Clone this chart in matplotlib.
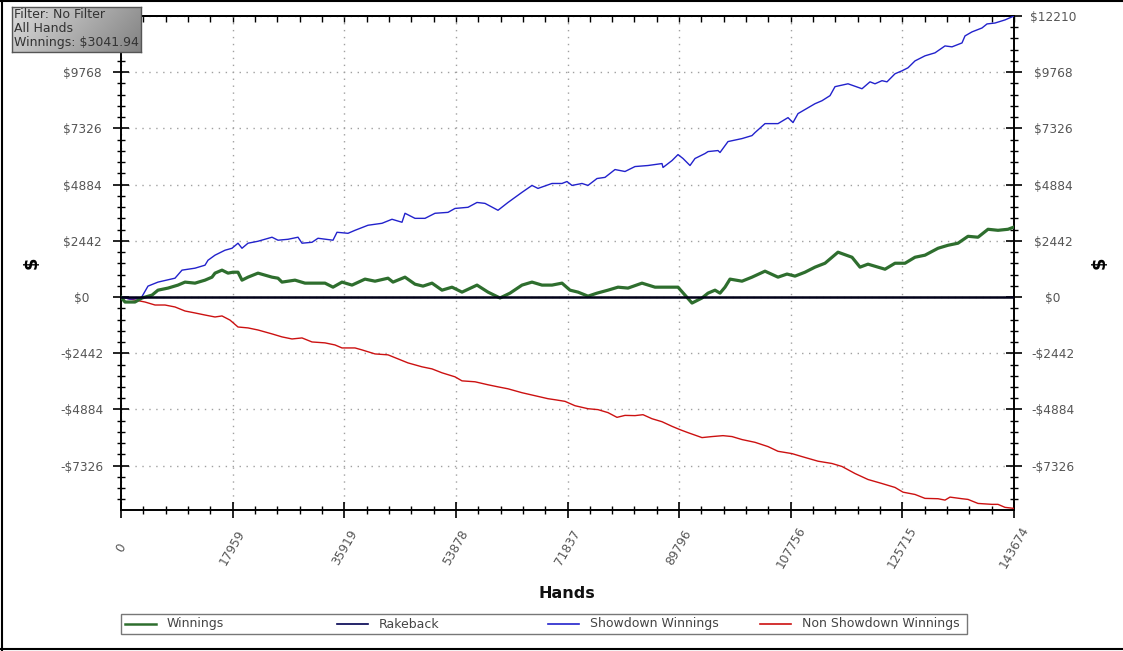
import matplotlib
matplotlib.use("Agg")
import matplotlib.pyplot as plt
import numpy as np
from matplotlib.ticker import AutoMinorLocator, FixedLocator
from matplotlib.lines import Line2D
from matplotlib.patches import Rectangle

plt.rcParams['font.family'] = ['DejaVu Sans']

# ---------------- data ----------------
series_names = ["Winnings", "Rakeback", "Showdown Winnings", "Non Showdown Winnings"]
series_colors = ["#2e6e2e", "#000050", "#2222cc", "#cc1111"]

showdown_hands = [0, 1448, 2800, 3330, 4344, 5953, 8688, 9814, 11906, 13515, 13998, 15124, 16733,
                  17859, 18824, 19468, 20433, 22042, 24295, 25260, 26869, 28478, 29121, 30730,
                  31695, 34109, 34752, 36522, 37648, 39740, 41992, 43601, 45210, 45693, 47302,
                  48911, 50519, 52611, 53737, 55829, 57277, 58564, 60655, 62264, 64516, 66125,
                  67091, 69343, 70952, 71757, 72561, 74170, 75136, 76584, 77871, 79480, 81089,
                  82698, 84789, 87042, 87203, 88651, 89616, 90421, 91547, 92351, 93960, 94443,
                  96052, 96374, 97660, 99912, 101521, 102004, 103613, 105705, 107314, 108118,
                  108923, 111658, 112784, 114071, 114876, 116967, 119220, 120507, 121311, 122437,
                  123242, 124529, 125655, 126620, 127747, 129356, 130965, 132573, 133699, 135308,
                  135791, 136917, 138526, 139331, 140617, 142226, 143674]
showdown_vals = [0, -90, -60, 0, 476, 650, 820, 1170, 1255, 1385, 1600, 1820, 2035,
                 2120, 2340, 2120, 2340, 2425, 2600, 2470, 2510, 2600, 2340, 2380,
                 2555, 2470, 2815, 2770, 2900, 3120, 3205, 3380, 3250, 3640, 3420,
                 3420, 3640, 3680, 3850, 3900, 4110, 4070, 3770, 4110, 4550, 4850,
                 4720, 4935, 4935, 5020, 4850, 4935, 4850, 5150, 5200, 5540, 5455,
                 5670, 5715, 5800, 5630, 5930, 6190, 6020, 5715, 6020, 6235, 6320,
                 6365, 6280, 6755, 6885, 7015, 7145, 7535, 7535, 7795, 7580,
                 7970, 8400, 8530, 8750, 9140, 9265, 9050, 9350, 9265, 9400,
                 9350, 9700, 9830, 9960, 10260, 10480, 10610, 10910, 10870, 11040,
                 11345, 11520, 11690, 11865, 11905, 12040, 12210]

winnings_hands = [0, 644, 2252, 3379, 4988, 5953, 7562, 9171, 10297, 11906, 13515, 14641, 15124,
                  16250, 17215, 18020, 18824, 19468, 20433, 22042, 24295, 25260, 25903, 27995,
                  29604, 31213, 32822, 34109, 35557, 37166, 39257, 40866, 42958, 43762, 45693,
                  47302, 48589, 50037, 51646, 53255, 54863, 57277, 59047, 60977, 62586, 64516,
                  66125, 67735, 69343, 70952, 72240, 73527, 75136, 76584, 78353, 79962, 81571,
                  83823, 85915, 88007, 89616, 90742, 91869, 93478, 94443, 95569, 96374, 97178,
                  97983, 99912, 101521, 103613, 105705, 107153, 108440, 110049, 111658, 113267,
                  115358, 117611, 118898, 120185, 121794, 122920, 124529, 126138, 127747, 129356,
                  131448, 133056, 134665, 136274, 137883, 139492, 141100, 142709, 143674]
winnings_vals = [0, -215, -215, -40, 85, 300, 390, 520, 650, 605, 735, 865, 1040,
                 1170, 1040, 1080, 1080, 735, 865, 1040, 865, 820, 650, 735,
                 605, 605, 605, 430, 650, 520, 780, 690, 820, 650, 865,
                 560, 476, 605, 300, 430, 215, 520, 215, -40, 170, 520,
                 650, 520, 520, 605, 300, 215, 40, 170, 300, 430, 390,
                 605, 430, 430, 430, 85, -260, -40, 170, 300, 170, 430,
                 780, 690, 865, 1125, 865, 1000, 910, 1080, 1300, 1470,
                 1950, 1730, 1300, 1430, 1300, 1210, 1470, 1470, 1730, 1820,
                 2120, 2250, 2340, 2640, 2600, 2945, 2900, 2945, 3042]

nonsd_hands = [0, 2252, 3861, 5470, 7079, 8688, 10297, 11906, 13515, 15124, 16250, 17537,
               18824, 20433, 22042, 24295, 25903, 27512, 29121, 30730, 32822, 34430, 35557,
               37648, 38774, 40866, 42958, 44566, 46175, 48428, 50037, 51646, 53737, 54863,
               56955, 59047, 60655, 62264, 64516, 66608, 68700, 69826, 71435, 73044, 75136,
               76744, 78353, 79801, 81089, 82698, 83985, 85433, 87042, 88651, 89938, 91225,
               93478, 95086, 96856, 98304, 99912, 102004, 104096, 105705, 107957, 109566,
               112140, 114393, 116002, 118093, 120185, 122437, 124529, 125816, 127747, 129356,
               131448, 132574, 133378, 135308, 136274, 137883, 140135, 141100, 142226, 143674]
nonsd_vals = [0, -130, -215, -345, -345, -430, -605, -690, -780, -865, -820, -1000,
              -1300, -1340, -1430, -1600, -1730, -1820, -1775, -1950, -1990, -2080, -2210,
              -2210, -2295, -2470, -2510, -2685, -2860, -3030, -3120, -3290, -3465, -3640,
              -3680, -3810, -3900, -3985, -4155, -4285, -4415, -4460, -4530, -4720, -4850,
              -4890, -5020, -5225, -5140, -5150, -5110, -5285, -5415, -5615, -5760, -5890,
              -6105, -6060, -6020, -6060, -6190, -6310, -6495, -6700, -6800, -6930,
              -7130, -7230, -7360, -7665, -7925, -8100, -8270, -8475, -8575, -8745,
              -8760, -8820, -8690, -8760, -8790, -8965, -9005, -9005, -9135, -9180]

rakeback_hands = [0, 143674]
rakeback_vals = [0, 0]

x_ticks = [0, 17959.25, 35918.5, 53877.75, 71837, 89796.25, 107755.5, 125714.75, 143674]
x_tick_labels = ["0", "17959", "35919", "53878", "71837", "89796", "107756", "125715", "143674"]
y_ticks = [-7326, -4884, -2442, 0, 2442, 4884, 7326, 9768, 12210]
y_tick_labels = ["-$7326", "-$4884", "-$2442", "$0", "$2442", "$4884", "$7326", "$9768", "$12210"]

info_lines = ["Filter: No Filter", "All Hands", "Winnings: $3041.94"]

# ---------------- figure ----------------
W, H = 1123, 651
fig = plt.figure(figsize=(W / 100, H / 100), dpi=100)

def fx(px):
    return px / W

def fy(py):
    return 1 - py / H

ax = fig.add_axes([fx(121), fy(510), fx(1014) - fx(121), fy(16) - fy(510)])
ax.set_xlim(0, 143674)
ax.set_ylim(-9250, 12210)

grid_kw = dict(color="#a0a0a0", linestyle=(0, (1, 4)), linewidth=1.0)
ax.grid(True, which="major", **grid_kw)
ax.set_axisbelow(True)

ax.plot(nonsd_hands, nonsd_vals, color=series_colors[3], lw=1.0, zorder=3)
ax.plot(showdown_hands, showdown_vals, color=series_colors[2], lw=1.0, zorder=3)
ax.plot(winnings_hands, winnings_vals, color=series_colors[0], lw=2.3, zorder=4,
        solid_joinstyle="round")
ax.plot(rakeback_hands, rakeback_vals, color="#000018", lw=1.8, zorder=5)

for s in ax.spines.values():
    s.set_linewidth(1.4)
    s.set_color("black")

ax.xaxis.set_major_locator(FixedLocator(x_ticks))
ax.set_xticklabels(x_tick_labels)
ax.xaxis.set_minor_locator(AutoMinorLocator(5))
ax.yaxis.set_major_locator(FixedLocator(y_ticks))
ax.set_yticklabels(y_tick_labels)
ax.yaxis.set_minor_locator(AutoMinorLocator(5))

ax.tick_params(axis="y", which="major", direction="inout", length=12, width=1.2,
               left=True, right=True, labelleft=True, labelright=True,
               labelsize=8.7, labelcolor="#555555", pad=22)
ax.tick_params(axis="y", which="minor", direction="inout", length=6, width=1.0,
               left=True, right=True)
ax.tick_params(axis="x", which="major", direction="inout", length=12, width=1.2,
               top=False, labelsize=8.7, labelcolor="#555555", pad=21,
               labelrotation=60)
ax.tick_params(axis="x", which="minor", direction="inout", length=6, width=1.0, top=False)

for lab in ax.get_xticklabels():
    lab.set_ha("center")
    lab.set_va("center")
    lab.set_rotation_mode("anchor")
major_yticks = ax.yaxis.get_major_ticks()
for tk in major_yticks:
    tk.label1.set_ha("center")
    tk.label2.set_ha("center")
# the left top label lies under the info box in the reference
major_yticks[-1].label1.set_visible(False)

sec = ax.secondary_xaxis("top")
sec.xaxis.set_major_locator(FixedLocator(x_ticks))
sec.xaxis.set_minor_locator(AutoMinorLocator(5))
sec.tick_params(which="both", direction="in", length=4, width=1.0, labeltop=False)
sec.spines["top"].set_linewidth(1.4)

# axis titles
fig.text(fx(32), fy(263), "$", rotation=90, fontsize=13, fontweight="bold",
         ha="center", va="center")
fig.text(fx(1100), fy(263), "$", rotation=90, fontsize=13, fontweight="bold",
         ha="center", va="center")
fig.text(fx(567), fy(593), "Hands", fontsize=11.5, fontweight="bold",
         ha="center", va="center", color="#111111")

# legend (manual, four equally spaced columns)
fig.add_artist(Rectangle((fx(121), fy(634)), fx(967) - fx(121), fy(614) - fy(634),
                         transform=fig.transFigure, fill=False, edgecolor="#777777", lw=1.0))
col_w = 211.6
for i, (name, col) in enumerate(zip(series_names, series_colors)):
    x0 = 125 + i * col_w
    fig.add_artist(Line2D([fx(x0), fx(x0 + 31)], [fy(624), fy(624)],
                          transform=fig.transFigure, color=col,
                          lw=1.8 if i == 0 else 1.2))
    fig.text(fx(x0 + 42), fy(624), name, fontsize=9, color="#444444",
             ha="left", va="center")

# info box with gradient
bax = fig.add_axes([fx(12), fy(52), fx(141) - fx(12), fy(7) - fy(52)])
gx = np.linspace(0, 1, 200)[None, :]
gy = np.linspace(0, 1, 60)[:, None]
gray = 0.86 - 0.27 * gx - 0.08 * gy          # row 0 = top
rgb = np.dstack([gray, gray, gray])
bax.imshow(rgb, aspect="auto", extent=[0, 1, 0, 1], origin="upper",
           interpolation="bilinear")
bax.set_xlim(0, 1)
bax.set_ylim(0, 1)
bax.set_xticks([])
bax.set_yticks([])
for s in bax.spines.values():
    s.set_color("#555555")
    s.set_linewidth(1.0)
for i, line in enumerate(info_lines):
    bax.text(2 / 129, 1 - (7.5 + i * 14) / 45, line, fontsize=9, color="#333333",
             ha="left", va="center", transform=bax.transAxes)

# outer frame lines (left, top, bottom)
fig.add_artist(Line2D([0, 1], [fy(1), fy(1)], transform=fig.transFigure, color="black", lw=1.5))
fig.add_artist(Line2D([fx(1.5), fx(1.5)], [0, 1], transform=fig.transFigure, color="black", lw=1.5))
fig.add_artist(Line2D([0, 1], [fy(648.5), fy(648.5)], transform=fig.transFigure, color="black", lw=1.5))

fig.savefig("out.png", dpi=100)
